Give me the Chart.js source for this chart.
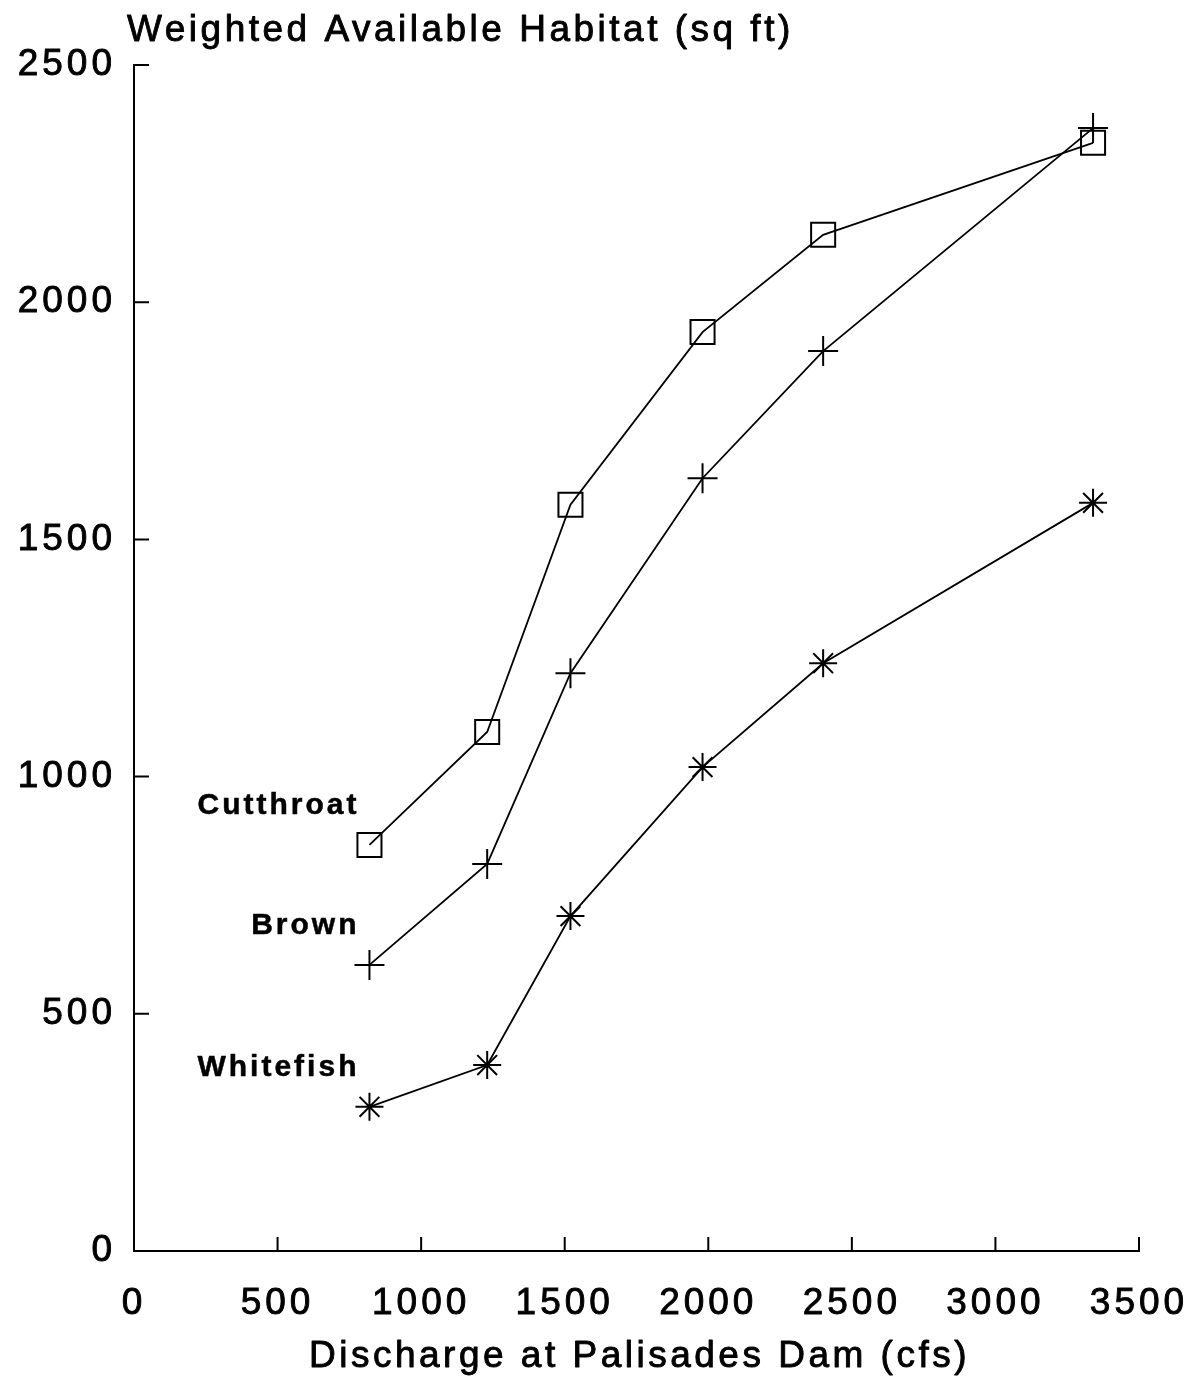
<!DOCTYPE html>
<html>
<head>
<meta charset="utf-8">
<script src="https://cdn.jsdelivr.net/npm/chart.js@4.4.1/dist/chart.umd.min.js"></script>
<style>
  html, body { margin: 0; padding: 0; background: #fff; }
  #wrap { width: 1202px; height: 1378px; }
</style>
</head>
<body>
<div id="wrap"><canvas id="grafico" width="1202" height="1378"></canvas></div>
<script>
// ========== DATOS ==========
const descarga = [820, 1230, 1520, 1980, 2400, 3340];
const cutthroat = [856, 1094, 1573, 1937, 2142, 2336];
const brown = [603, 816, 1218, 1629, 1897, 2367];
const whitefish = [304, 392, 706, 1020, 1239, 1577];
const especies = ['Cutthroat', 'Brown', 'Whitefish'];
const ticksX = [0, 500, 1000, 1500, 2000, 2500, 3000, 3500];
const ticksY = [0, 500, 1000, 1500, 2000, 2500];

const FUENTE = '"Liberation Sans", Arial, sans-serif';

function puntos(valores) {
  return descarga.map((x, i) => ({ x: x, y: valores[i] }));
}

function texto(ctx, t, x, y) {
  ctx.strokeText(t, x, y);
  ctx.fillText(t, x, y);
}

// ========== PLUGINS ==========
const espaciado = {
  id: 'espaciado',
  beforeDraw(chart) {
    chart.ctx.letterSpacing = '4px';
  }
};

const extras = {
  id: 'extras',
  afterDraw(chart) {
    const ctx = chart.ctx;
    const { x, y } = chart.scales;
    const area = chart.chartArea;
    ctx.save();
    ctx.strokeStyle = '#000';
    ctx.lineWidth = 2;
    // marcas hacia dentro
    ctx.beginPath();
    ticksX.slice(1).forEach(v => {
      const px = x.getPixelForValue(v);
      ctx.moveTo(px, area.bottom);
      ctx.lineTo(px, area.bottom - 14);
    });
    ticksY.slice(1).forEach(v => {
      const py = y.getPixelForValue(v);
      ctx.moveTo(area.left, py);
      ctx.lineTo(area.left + 15, py);
    });
    ctx.stroke();

    ctx.fillStyle = '#000';
    ctx.lineWidth = 0.9;
    ctx.lineJoin = 'round';

    // titulo eje y
    ctx.letterSpacing = '3.5px';
    ctx.font = '37px ' + FUENTE;
    ctx.textAlign = 'left';
    ctx.textBaseline = 'middle';
    texto(ctx, 'Weighted Available Habitat (sq ft)', 127, 31);

    // titulo eje x
    ctx.textAlign = 'center';
    texto(ctx, 'Discharge at Palisades Dam (cfs)', (area.left + area.right) / 2 + 3, 1357);

    // nombres de especies
    ctx.font = 'bold 30px ' + FUENTE;
    ctx.letterSpacing = '3px';
    ctx.lineWidth = 0.5;
    ctx.textAlign = 'right';
    especies.forEach((nombre, i) => {
      const p = chart.getDatasetMeta(i).data[0];
      texto(ctx, nombre, p.x - 10, p.y - 39);
    });
    ctx.restore();
  }
};

// ========== GRAFICO ==========
const serie = (label, valores, estilo, radio) => ({
  label: label,
  data: puntos(valores),
  showLine: true,
  borderColor: '#000',
  borderWidth: 1.8,
  pointStyle: estilo,
  pointRadius: radio,
  pointBorderWidth: 2,
  pointBorderColor: '#000',
  pointBackgroundColor: 'rgba(0,0,0,0)',
  tension: 0
});

const fuenteTicks = { family: FUENTE, size: 37 };

new Chart(document.getElementById('grafico'), {
  type: 'scatter',
  data: {
    datasets: [
      serie('Cutthroat', cutthroat, 'rect', 17),
      serie('Brown', brown, 'cross', 15),
      serie('Whitefish', whitefish, 'star', 14)
    ]
  },
  options: {
    responsive: false,
    animation: false,
    devicePixelRatio: 1,
    layout: { padding: { left: 0, right: 63, top: 65, bottom: 0 } },
    plugins: {
      legend: { display: false },
      tooltip: { enabled: false }
    },
    scales: {
      x: {
        type: 'linear',
        min: 0,
        max: 3500,
        afterBuildTicks(scale) { scale.ticks = ticksX.map(v => ({ value: v })); },
        afterFit(scale) {
          scale.height = 127;
          scale.paddingLeft = 0;
          scale.paddingRight = 0;
        },
        grid: { display: false, drawTicks: false },
        border: { display: true, color: '#000', width: 2 },
        ticks: {
          color: '#000', padding: 31, maxRotation: 0, font: fuenteTicks,
          textStrokeColor: '#000', textStrokeWidth: 0.9,
          callback: v => String(v)
        }
      },
      y: {
        type: 'linear',
        min: 0,
        max: 2500,
        afterBuildTicks(scale) { scale.ticks = ticksY.map(v => ({ value: v })); },
        afterFit(scale) {
          scale.width = 134;
          scale.paddingTop = 0;
          scale.paddingBottom = 0;
        },
        grid: { display: false, drawTicks: false },
        border: { display: true, color: '#000', width: 2 },
        ticks: {
          color: '#000', padding: 18, font: fuenteTicks,
          textStrokeColor: '#000', textStrokeWidth: 0.9,
          callback: v => String(v)
        }
      }
    }
  },
  plugins: [espaciado, extras]
});
</script>
</body>
</html>
